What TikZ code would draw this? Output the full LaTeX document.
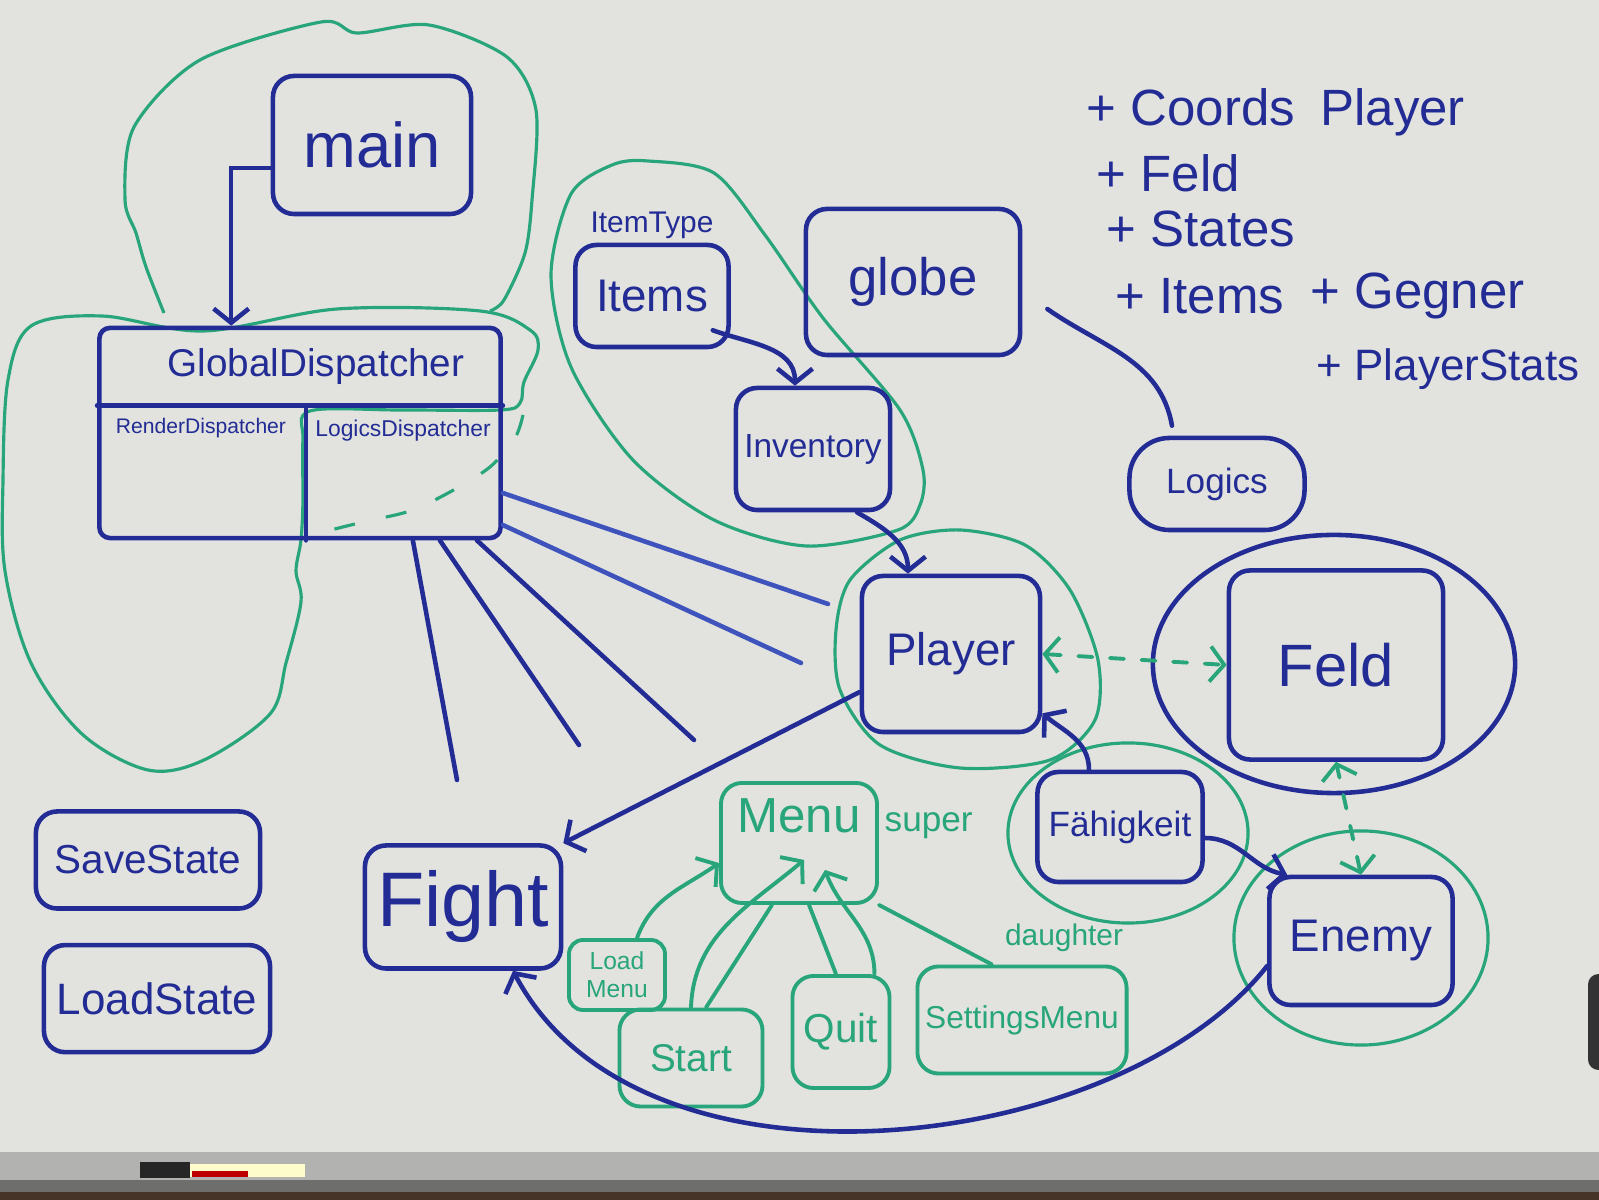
\documentclass[tikz,border=0pt]{standalone}
\usepackage{fontspec}
\setmainfont{Liberation Sans}
\usetikzlibrary{arrows.meta,positioning}
\definecolor{board}{RGB}{226,227,223}
\definecolor{ink}{RGB}{34,44,148}
\definecolor{inklight}{RGB}{62,84,188}
\definecolor{mgreen}{RGB}{40,165,122}
\definecolor{traylight}{RGB}{178,178,176}
\definecolor{traydark}{RGB}{110,110,108}
\definecolor{floorc}{RGB}{70,52,40}
\newcommand{\inksize}[1]{\fontsize{#1}{#1}\selectfont}

\begin{document}
\begin{tikzpicture}[x=0.01cm, y=0.01cm,
    box/.style={draw=ink, text=ink, rounded corners=6pt, line width=1.3pt, inner sep=2pt},
    gbox/.style={box, draw=mgreen, text=mgreen, line width=1.1pt},
    note/.style={text=ink, inner sep=0pt},
    gnote/.style={text=mgreen, inner sep=0pt},
    inkline/.style={draw=ink, line width=1.3pt, line cap=round},
    gline/.style={draw=mgreen, line width=1.1pt, line cap=round},
    blobline/.style={draw=mgreen, line width=0.9pt},
    arr/.style={inkline, -{Straight Barb[length=4pt,width=10pt]}},
    garr/.style={gline, -{Straight Barb[length=4pt,width=10pt]}},
    dasharr/.style={gline, dash pattern=on 4pt off 5pt, {Straight Barb[length=4pt,width=10pt]}-{Straight Barb[length=4pt,width=10pt]}}
]
\useasboundingbox (0,0) rectangle (1599,1200);
% whiteboard and tray
\fill[board] (0,0) rectangle (1599,1200);
\fill[traylight] (0,20) rectangle (1599,48);
\fill[traydark] (0,8) rectangle (1599,20);
\fill[floorc] (0,0) rectangle (1599,8);
\fill[black!85] (140,22) rectangle (190,38);
\fill[yellow!20!white] (190,23) rectangle (305,36);
\fill[red!75!black] (192,23) rectangle (248,29);
\fill[black!80, rounded corners=3pt] (1588,130) rectangle (1612,226);

% green groups
\draw[blobline] plot[smooth] coordinates {(164,887) (146,933) (136,967) (125,1000) (134,1073) (200,1140) (321,1178) (357,1167) (429,1175) (507,1143) (536,1090) (532,1000) (525,947) (504,900) (490,889)};
\draw[blobline] plot[smooth cycle, tension=0.55] coordinates {(31,874) (102,884) (204,869) (337,891) (480,889) (530,870) (538,850) (524,818) (520,797) (500,790) (400,790) (310,789) (303,760) (303,700) (301,660) (296,629) (301,598) (286,537) (270,486) (204,440) (148,430) (82,466) (31,537) (5,629) (3,720) (8,820)};
\draw[blobline, dash pattern=on 6pt off 9pt] plot[smooth] coordinates {(523,785) (515,762) (490,733) (450,708) (410,689) (363,678) (307,664)};
\draw[blobline] plot[smooth cycle] coordinates {(648,1039) (714,1027) (765,965) (823,882) (900,790) (923,730) (920,695) (898,670) (806,654) (714,680) (632,741) (571,833) (551,925) (571,1006) (612,1035)};
\draw[blobline] plot[smooth cycle] coordinates {(850,620) (900,660) (960,670) (1025,655) (1070,610) (1098,540) (1095,480) (1050,440) (960,432) (880,455) (840,510) (836,570)};
\draw[blobline] (1128,367) ellipse [x radius=1.2cm, y radius=0.9cm];
\draw[blobline] (1361,262) ellipse [x radius=1.27cm, y radius=1.07cm];
\draw[inkline] (1334,536) ellipse [x radius=1.81cm, y radius=1.29cm];

% boxes
\node[box, minimum width=1.98cm, minimum height=1.38cm, font=\inksize{18}] (main) at (372,1055) {main};
\node[box, rounded corners=3pt, minimum width=4.01cm, minimum height=2.1cm] (gd) at (300,767) {};
\node[note, font=\inksize{11}, below=0.22cm of gd.north, xshift=0.16cm] (gdtitle) {GlobalDispatcher};
\node[note, font=\inksize{6}] (renderdisp) at (201,772) {RenderDispatcher};
\node[note, font=\inksize{6.5}] (logicdisp) at (403,769) {LogicsDispatcher};
\node[box, minimum width=1.53cm, minimum height=1.02cm, font=\inksize{13}] (items) at (652,904) {Items};
\node[note, font=\inksize{8.5}, above=0.03cm of items] (itemtype) {ItemType};
\node[box, minimum width=1.54cm, minimum height=1.22cm, font=\inksize{9.5}] (inv) at (813,751) {Inventory};
\node[box, minimum width=2.14cm, minimum height=1.46cm, font=\inksize{15}] (globe) at (913,918) {globe};
\node[box, rounded corners=0.4cm, minimum width=1.75cm, minimum height=0.92cm, font=\inksize{10}] (logic) at (1217,716) {Logics};
\node[box, minimum width=1.78cm, minimum height=1.56cm, font=\inksize{13}] (player) at (951,546) {Player};
\node[box, minimum width=2.14cm, minimum height=1.89cm, font=\inksize{17}] (feld) at (1336,535) {Feld};
\node[box, minimum width=1.65cm, minimum height=1.10cm, font=\inksize{10}] (faeh) at (1120,373) {Fähigkeit};
\node[box, minimum width=1.83cm, minimum height=1.28cm, font=\inksize{13}] (enemy) at (1361,259) {Enemy};
\node[box, minimum width=1.96cm, minimum height=1.23cm, font=\inksize{22}] (fight) at (463,293) {Fight};
\node[box, minimum width=2.24cm, minimum height=0.97cm, font=\inksize{11.5}] (save) at (148,340) {SaveState};
\node[box, minimum width=2.26cm, minimum height=1.07cm, font=\inksize{12.5}, below=0.32cm of save, xshift=0.09cm] (load) {LoadState};

% menu classes
\node[gbox, minimum width=1.56cm, minimum height=1.2cm, label={[gnote, font=\inksize{14}, yshift=0.27cm]center:Menu}] (menu) at (799,357) {};
\node[gnote, font=\inksize{10}, right=0.05cm of menu, yshift=0.17cm] (super) {super};
\node[gbox, rounded corners=4pt, minimum width=0.96cm, minimum height=0.7cm, font=\inksize{7}, align=center] (loadmenu) at (617,225) {Load\\[1pt]Menu};
\node[gbox, minimum width=1.43cm, minimum height=0.97cm, font=\inksize{11}] (start) at (691,142) {Start};
\node[gbox, minimum width=0.97cm, minimum height=1.12cm, font=\inksize{11.5}] (quit) at (841,168) {Quit};
\node[gbox, minimum width=2.09cm, minimum height=1.07cm, font=\inksize{9}] (settings) at (1022,180) {SettingsMenu};
\node[gnote, font=\inksize{8.5}, above=0.12cm of settings, xshift=0.42cm] (daughter) {daughter};

% notes
\node[note, font=\inksize{14.5}, anchor=west] (lcoords) at (1086,1088) {+ Coords\enspace Player};
\node[note, font=\inksize{14.5}, anchor=west] (lfeld) at (1096,1027) {+ Feld};
\node[note, font=\inksize{14.5}, anchor=west] (lstates) at (1106,971) {+ States};
\node[note, font=\inksize{14.5}, anchor=west] (litems) at (1115,904) {+ Items};
\node[note, font=\inksize{14.5}, anchor=west] (lgegner) at (1310,904) {+ Gegner};
\node[note, font=\inksize{12.5}, anchor=west] (lstats) at (1316,831) {+ PlayerStats};

% GlobalDispatcher parts
\draw[inkline] ([yshift=-0.8cm]gd.north west) -- ([yshift=-0.8cm]gd.north east);
\draw[inkline] ([xshift=0.06cm]gd.south) -- ([xshift=0.06cm,yshift=-0.8cm]gd.north);

% free lines out of the dispatcher
\coordinate (u1) at (828,596);
\coordinate (u2) at (801,537);
\coordinate (u3) at (694,460);
\coordinate (u4) at (579,455);
\coordinate (u5) at (457,420);
\draw[inkline, draw=inklight] ([yshift=-0.6cm]gd.east) -- (u1);
\draw[inkline, draw=inklight] ([yshift=-0.92cm]gd.east) -- (u2);
\draw[inkline] ([xshift=-0.26cm]gd.south east) -- (u3);
\draw[inkline] ([xshift=-0.63cm]gd.south east) -- (u4);
\draw[inkline] ([xshift=-0.9cm]gd.south east) -- (u5);

% connectors
\draw[arr] ([yshift=-0.23cm]main.west) -| ([xshift=1.34cm]gd.north west);
\draw[arr] ([xshift=-0.18cm,yshift=0.19cm]items.south east) to[out=-20,in=90] ([xshift=-0.18cm]inv.north);
\draw[arr] ([xshift=0.44cm]inv.south) to[out=-30,in=90] ([xshift=-0.43cm]player.north);
\draw[inkline] ([xshift=0.25cm,yshift=-0.27cm]globe.east) to[out=-35,in=100] ([xshift=-0.45cm,yshift=0.1cm]logic.north);
\draw[arr] ([yshift=-0.38cm]player.west) -- (fight.north east);
\draw[dasharr] (player.east) -- (feld.west);
\draw[arr] ([xshift=-0.31cm]faeh.north) to[out=90,in=-40] ([yshift=0.21cm]player.south east);
\draw[arr] ([yshift=-0.11cm]faeh.east) to[out=0,in=170] ([xshift=0.2cm]enemy.north west);
\draw[dasharr] (enemy.north) -- (feld.south);
\draw[arr] ([yshift=-0.25cm]enemy.west) .. controls +(-150,-190) and +(127,-241) .. ([xshift=0.5cm]fight.south);

% menu inheritance
\draw[garr] ([xshift=0.2cm]loadmenu.north) to[out=70,in=-145] ([yshift=-0.2cm]menu.west);
\draw[garr] (start.north) to[out=88,in=-140] ([xshift=0.05cm,yshift=0.45cm]menu.south);
\draw[gline] ([xshift=0.15cm]start.north) -- ([xshift=-0.27cm]menu.south);
\draw[gline] ([xshift=-0.05cm]quit.north) -- ([xshift=0.1cm]menu.south);
\draw[garr] ([xshift=-0.17cm]quit.north east) to[out=90,in=-70] ([xshift=0.26cm,yshift=0.35cm]menu.south);
\draw[gline] ([xshift=-0.3cm]settings.north) -- (menu.south east);
\end{tikzpicture}
\end{document}
